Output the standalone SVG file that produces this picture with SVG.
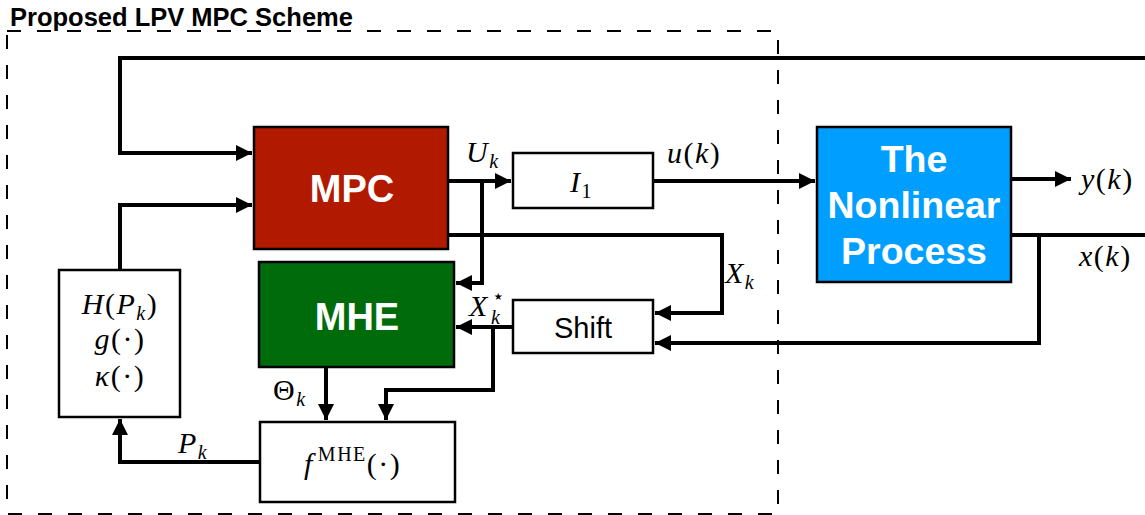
<svg xmlns="http://www.w3.org/2000/svg" width="1145" height="515" viewBox="0 0 1145 515">
<style>
.box{stroke:#000;stroke-width:2.5}
.w{fill:#fff}
.ln{fill:none;stroke:#000;stroke-width:4}
.m{font-family:"Liberation Serif",serif;font-style:italic;font-size:30px;fill:#000;letter-spacing:1.5px}
.r{font-style:normal}
.sub{font-size:20px}
.bt{font-family:"Liberation Sans",Arial,sans-serif;font-weight:bold;fill:#fff;text-anchor:middle}
</style>
<defs>
<marker id="ah" viewBox="0 0 10 10" refX="10" refY="5" markerWidth="4" markerHeight="4" orient="auto" markerUnits="strokeWidth">
<path d="M0,0 L10,5 L0,10 z" fill="#000"/>
</marker>
</defs>
<rect width="1145" height="515" fill="#fff"/>
<g id="frame">
<rect x="7" y="31" width="771" height="483" fill="none" stroke="#000" stroke-width="2" stroke-dasharray="14,16"/>
<text x="10" y="26" font-family="Liberation Sans,Arial,sans-serif" font-weight="bold" font-size="25.5">Proposed LPV MPC Scheme</text>
</g>
<g id="connectors">
<polyline class="ln" points="1145,58 120,58 120,153 252,153" marker-end="url(#ah)"/>
<polyline class="ln" points="120,270 120,205 252,205" marker-end="url(#ah)"/>
<polyline class="ln" points="448,181 511,181" marker-end="url(#ah)"/>
<polyline class="ln" points="482,181 482,283 456,283" marker-end="url(#ah)"/>
<polyline class="ln" points="448,235 722,235 722,313 655,313" marker-end="url(#ah)"/>
<polyline class="ln" points="653,181 815,181" marker-end="url(#ah)"/>
<polyline class="ln" points="1011,179 1071,179" marker-end="url(#ah)"/>
<polyline class="ln" points="1011,235 1145,235"/>
<polyline class="ln" points="1039,235 1039,343 655,343" marker-end="url(#ah)"/>
<polyline class="ln" points="513,327 456,327" marker-end="url(#ah)"/>
<polyline class="ln" points="493,327 493,390 386,390 386,420" marker-end="url(#ah)"/>
<polyline class="ln" points="326,367 326,420" marker-end="url(#ah)"/>
<polyline class="ln" points="260,462 120,462 120,419" marker-end="url(#ah)"/>
</g>
<g id="labels">
<text class="m" x="466" y="162">U<tspan class="sub" dy="6">k</tspan></text>
<text class="m" x="667" y="163">u<tspan class="r">(</tspan>k<tspan class="r">)</tspan></text>
<text class="m" x="725" y="283">X<tspan class="sub" dy="6">k</tspan></text>
<text class="m" x="469" y="316">X</text>
<text class="m r sub" x="492" y="303">⋆</text>
<text class="m sub" x="491" y="324">k</text>
<text class="m" x="273" y="400"><tspan class="r">Θ</tspan><tspan class="sub" dy="6">k</tspan></text>
<text class="m" x="178" y="453">P<tspan class="sub" dy="6">k</tspan></text>
<text class="m" x="1081" y="189">y<tspan class="r">(</tspan>k<tspan class="r">)</tspan></text>
<text class="m" x="1079" y="266">x<tspan class="r">(</tspan>k<tspan class="r">)</tspan></text>
</g>
<g id="mpc">
<rect class="box" x="254" y="127" width="194" height="122" fill="#B21A00"/>
<text class="bt" x="352" y="202" font-size="38">MPC</text>
</g>
<g id="mhe">
<rect class="box" x="259" y="262" width="195" height="105" fill="#006B0B"/>
<text class="bt" x="357" y="330" font-size="38">MHE</text>
</g>
<g id="i1">
<rect class="box w" x="513" y="153" width="140" height="55"/>
<text class="m" x="570" y="192">I<tspan class="sub r" dy="6">1</tspan></text>
</g>
<g id="shift">
<rect class="box w" x="513" y="300" width="140" height="53"/>
<text x="583" y="338" font-family="Liberation Sans,Arial,sans-serif" font-size="29" text-anchor="middle">Shift</text>
</g>
<g id="process">
<rect class="box" x="817" y="127" width="194" height="155" fill="#009FFF"/>
<text class="bt" x="914" y="172" font-size="37.5">The</text>
<text class="bt" x="914" y="218" font-size="37.5">Nonlinear</text>
<text class="bt" x="914" y="264" font-size="37.5">Process</text>
</g>
<g id="h">
<rect class="box w" x="59" y="270" width="121" height="147"/>
<text class="m" x="120" y="314" text-anchor="middle">H<tspan class="r">(</tspan>P<tspan class="sub" dy="6">k</tspan><tspan class="r" dy="-6">)</tspan></text>
<text class="m" x="120" y="349" text-anchor="middle">g<tspan class="r">(·)</tspan></text>
<text class="m" x="120" y="386" text-anchor="middle">κ<tspan class="r">(·)</tspan></text>
</g>
<g id="fmhe">
<rect class="box w" x="260" y="422" width="195" height="80"/>
<text class="m" x="304" y="474">f<tspan class="r sub" dx="4" dy="-13">MHE</tspan><tspan class="r" dy="13">(·)</tspan></text>
</g>
</svg>
